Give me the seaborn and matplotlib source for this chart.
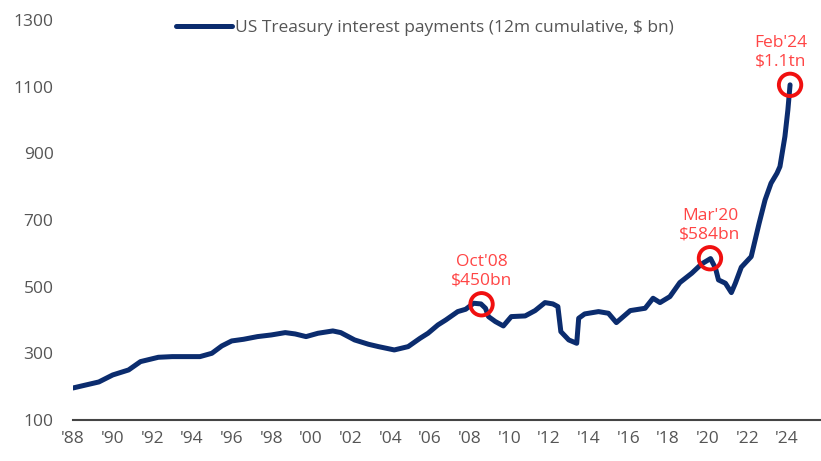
import pandas as pd
import matplotlib.pyplot as plt
import seaborn as sns

# US Treasury interest payments, 12m cumulative ($bn)
years = [1988.0, 1989.3, 1990.0, 1990.8, 1991.4, 1992.3, 1993.0, 1994.4, 1995.0, 1995.5,
         1996.0, 1996.6, 1997.3, 1998.0, 1998.7, 1999.2, 1999.75, 2000.35, 2001.1, 2001.5,
         2002.2, 2002.9, 2003.4, 2004.2, 2004.9, 2005.5, 2005.9, 2006.4, 2006.8, 2007.4,
         2007.8, 2008.2, 2008.57, 2008.8, 2008.95, 2009.3, 2009.7, 2010.1, 2010.8, 2011.3,
         2011.8, 2012.2, 2012.45, 2012.6, 2013.0, 2013.4, 2013.5, 2013.8, 2014.5, 2015.0,
         2015.4, 2016.1, 2016.85, 2017.25, 2017.6, 2018.1, 2018.6, 2019.2, 2019.7, 2020.15,
         2020.4, 2020.55, 2020.9, 2021.2, 2021.4, 2021.7, 2022.2, 2022.6, 2022.9, 2023.2,
         2023.5, 2023.65, 2023.9, 2024.05, 2024.16]
values = [196, 214, 235, 250, 275, 288, 290, 290, 300, 322,
          337, 342, 350, 355, 362, 358, 350, 360, 367, 362,
          340, 327, 320, 310, 320, 345, 360, 385, 400, 425,
          432, 450, 448, 435, 410, 395, 382, 410, 412, 428,
          452, 448, 440, 365, 340, 330, 405, 418, 425, 420,
          392, 428, 435, 465, 452, 470, 512, 540, 568, 584,
          555, 520, 510, 482, 510, 558, 590, 690, 760, 810,
          840, 860, 950, 1030, 1105]

# highlighted points
hl_x = [2008.6, 2020.12, 2024.16]
hl_y = [447, 585, 1105]
hl_labels = ["Oct'08\n$450bn", "Mar'20\n$584bn", "Feb'24\n$1.1tn"]
hl_dx = [0, 0, -7]

xticks = list(range(1988, 2025, 2))
xticklabels = ["'" + str(y)[2:] for y in xticks]
yticks = list(range(100, 1301, 200))

df = pd.DataFrame({"year": years, "value": values})

sns.set_style("white")
plt.rcParams['font.family'] = ['Open Sans', 'DejaVu Sans']

navy = "#0b2c6e"
red = "#ff4545"
grey = "#555555"

fig = plt.figure(figsize=(8.21, 4.61), dpi=100)
ax = fig.add_axes([0.089, 0.089, 0.911, 0.868])

sns.lineplot(data=df, x="year", y="value", ax=ax, color=navy, linewidth=3.6,
             label="US Treasury interest payments (12m cumulative, $ bn)")

ax.scatter(hl_x, hl_y, s=260, facecolors="none", edgecolors="#f01010", linewidths=2.8, zorder=5)
for x, y, t, dx in zip(hl_x, hl_y, hl_labels, hl_dx):
    ax.annotate(t, (x, y), xytext=(dx, 11), textcoords="offset points",
                ha="center", va="bottom", color=red, fontsize=12.5, linespacing=1.25)

ax.set_xlim(1988, 2025.72)
ax.set_ylim(100, 1300)
ax.set_xticks(xticks)
ax.set_xticklabels(xticklabels)
ax.set_yticks(yticks)
ax.tick_params(axis="both", length=0, labelsize=12.5, labelcolor=grey)
ax.tick_params(axis="y", pad=14)
ax.tick_params(axis="x", pad=8)
ax.set_xlabel("")
ax.set_ylabel("")

for s in ["top", "right", "left"]:
    ax.spines[s].set_visible(False)
ax.spines["bottom"].set_color("#444444")
ax.spines["bottom"].set_linewidth(1.5)

leg = ax.legend(loc="upper left", bbox_to_anchor=(0.117, 1.04), frameon=False,
                fontsize=12.5, handlelength=3.2, handletextpad=0.2)
for t in leg.get_texts():
    t.set_color(grey)

fig.savefig("out.png", dpi=100)
